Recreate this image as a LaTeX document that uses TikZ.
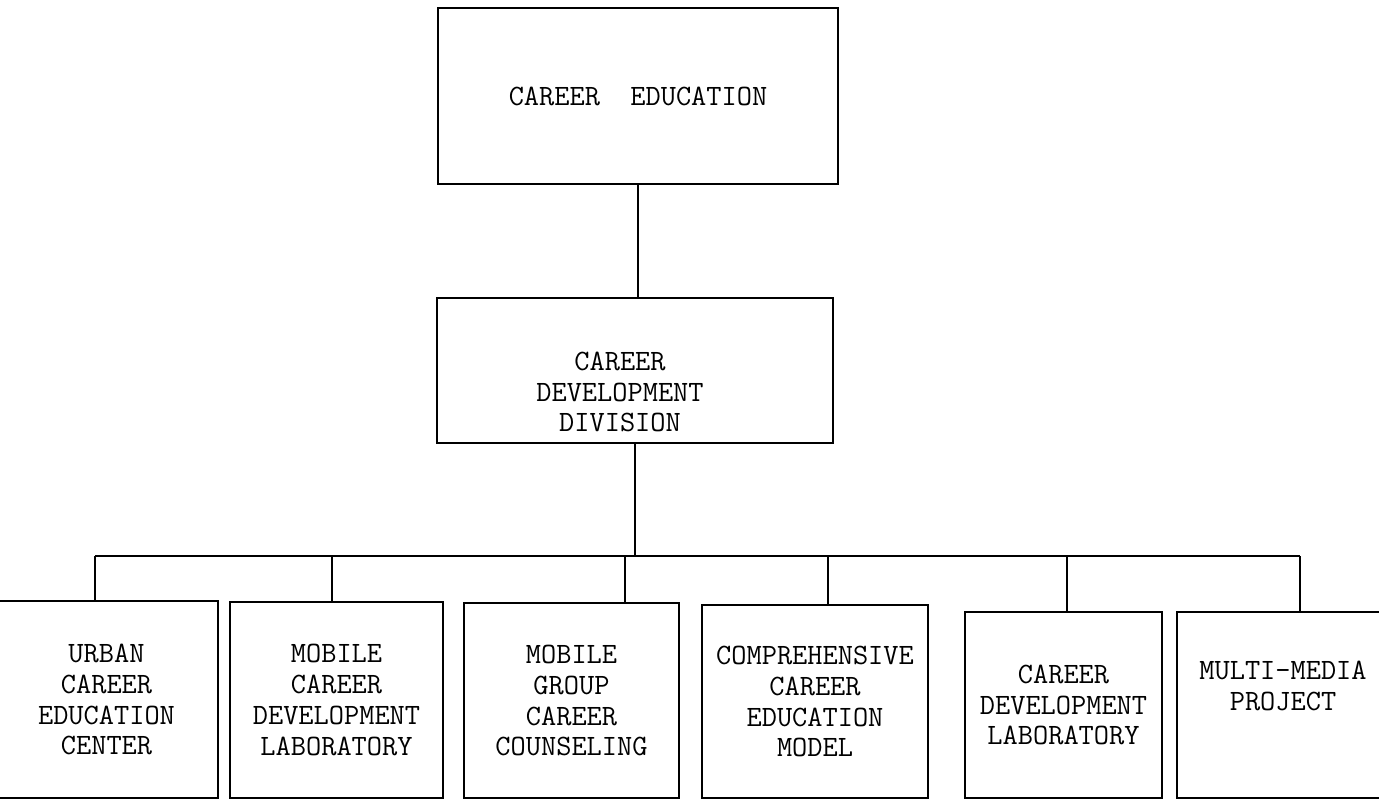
\documentclass[tikz,border=0pt]{standalone}
\usepackage{tikz}
\tikzset{
    unit/.style={draw, line width=1.1pt, align=center, inner sep=0pt},
    lbl/.style={align=center}
}

\begin{document}
\begin{tikzpicture}[font=\fontsize{16.8}{17.6}\selectfont\ttfamily, line width=1.1pt]
    \useasboundingbox (0,0) rectangle (27.58,-16.04);

    \node[unit, minimum width=8cm, minimum height=3.52cm] (edu) at (12.76,-1.92) {CAREER\ \ EDUCATION};
    \node[unit, minimum width=7.92cm, minimum height=2.9cm] (div) at (12.7,-7.41) {};
    \node[lbl] (divtxt) at (12.4,-7.84) {CAREER\\DEVELOPMENT\\DIVISION};

    \node[unit, minimum width=4.46cm, minimum height=3.94cm] (urban) at (2.13,-13.99) {URBAN\\CAREER\\EDUCATION\\CENTER};
    \node[unit, minimum width=4.26cm, minimum height=3.92cm] (mobile) at (6.73,-14.0) {MOBILE\\CAREER\\DEVELOPMENT\\LABORATORY};
    \node[unit, minimum width=4.30cm, minimum height=3.90cm] (group) at (11.43,-14.01) {MOBILE\\GROUP\\CAREER\\COUNSELING};
    \node[unit, minimum width=4.52cm, minimum height=3.86cm] (model) at (16.3,-14.03) {COMPREHENSIVE\\CAREER\\EDUCATION\\MODEL};
    \node[unit, minimum width=3.94cm, minimum height=3.72cm] (lab) at (21.27,-14.1) {CAREER\\DEVELOPMENT\\LABORATORY};
    \node[unit, minimum width=4.30cm, minimum height=3.72cm] (media) at (25.69,-14.1) {};
    \node[lbl] (mediatxt) at (25.66,-13.72) {MULTI-MEDIA\\PROJECT};

    \foreach \n/\x in {urban/1.9, mobile/6.64, group/12.5, model/16.56, lab/21.34, media/26.0} {
        \coordinate (bus-\n) at (\x,-11.12);
        \draw (bus-\n) -- (bus-\n |- \n.north);
    }
    \draw (bus-urban) -- (bus-media);

    \draw (edu.south) -- (edu.south |- div.north);
    \draw (div.south) -- (div.south |- bus-urban);
\end{tikzpicture}
\end{document}
